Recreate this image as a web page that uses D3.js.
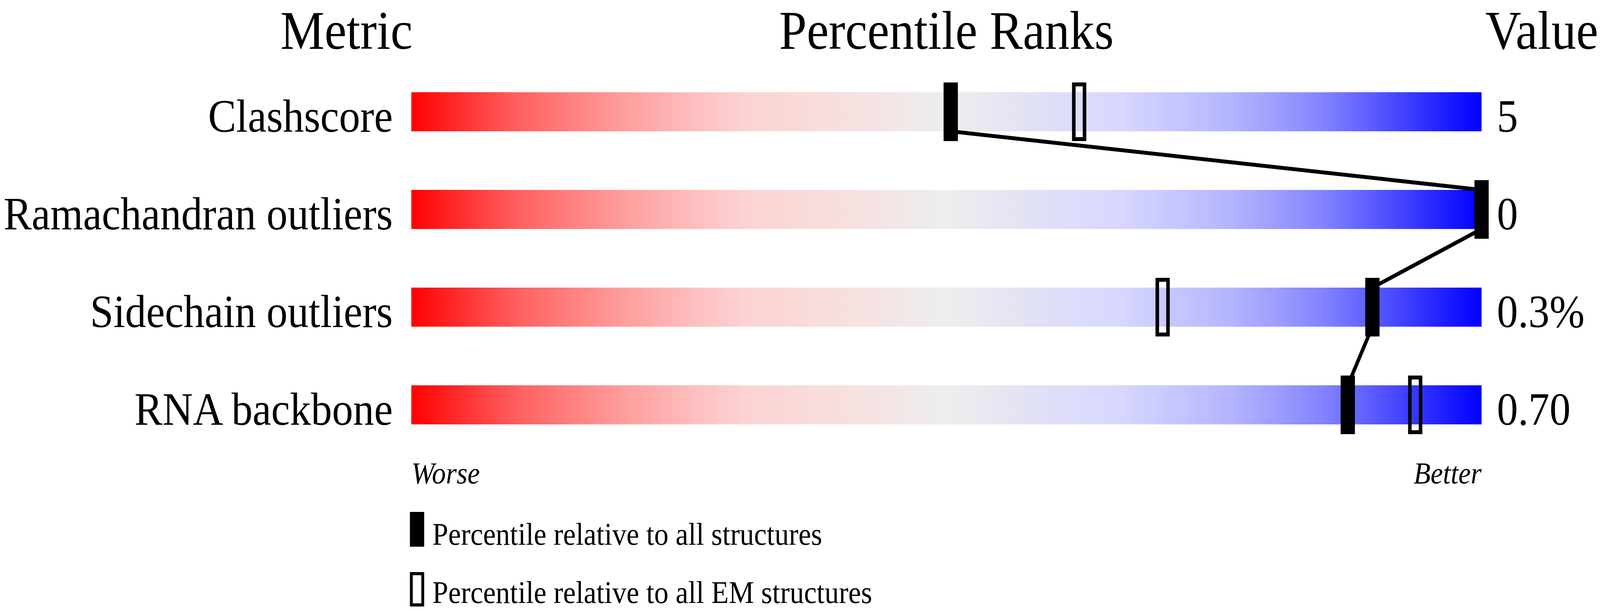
<!DOCTYPE html>
<html>
<head>
<meta charset="utf-8">
<script src="https://cdn.jsdelivr.net/npm/d3@7"></script>
<style>
  html, body { margin: 0; padding: 0; background: #fff; overflow: hidden; width: 100%; height: 100%; }
  svg { display: block; width: 100vw; height: 100vh; }
  text { font-family: "Liberation Serif", "Times New Roman", serif; fill: #000; }
</style>
</head>
<body>
<script>
// ---- data ----
const metrics = ["Clashscore", "Ramachandran outliers", "Sidechain outliers", "RNA backbone"];
const valueLabels = ["5", "0", "0.3%", "0.70"];
const percentileAll = [50.4, 100, 89.8, 87.5];
const percentileEM = [62.4, null, 70.2, 93.8];
const headers = ["Metric", "Percentile Ranks", "Value"];
const axisEnds = ["Worse", "Better"];
const legendLabels = ["Percentile relative to all structures", "Percentile relative to all EM structures"];
const gradientStops = [
  [0, "#ff0000"], [0.05, "#ff3232"], [0.10, "#ff6060"], [0.15, "#ff8080"],
  [0.20, "#ff9e9e"], [0.26, "#fdbcbc"], [0.31, "#fcd2d2"], [0.38, "#f9dcdc"],
  [0.44, "#f4e4e4"], [0.50, "#eeeeee"], [0.55, "#e6e6f2"], [0.60, "#dedef9"],
  [0.66, "#d8d8ff"], [0.72, "#c4c4ff"], [0.766, "#b4b4ff"], [0.81, "#9c9cff"],
  [0.85, "#8484ff"], [0.90, "#5a5aff"], [0.95, "#2c2cff"], [1, "#0000ff"]
];

// ---- layout ----
const W = 4485, H = 1561;
const svg = d3.select("body").append("svg")
  .attr("viewBox", `0 0 ${W} ${H}`)
  .attr("preserveAspectRatio", "none");
svg.append("rect").attr("width", W).attr("height", H).attr("fill", "#fff");

const x = d3.scaleLinear().domain([0, 100]).range([1153, 4153]);
const y = d3.scaleBand().domain(metrics).range([236, 1086]).paddingInner(0.6).paddingOuter(0);
const bw = y.bandwidth();

const defs = svg.append("defs");
const grad = defs.append("linearGradient").attr("id", "g")
  .attr("x1", "0%").attr("x2", "100%").attr("y1", "0%").attr("y2", "0%");
grad.selectAll("stop").data(gradientStops).join("stop")
  .attr("offset", d => d[0]).attr("stop-color", d => d[1]);

// headers
const hy = 125;
svg.append("text").attr("x", 786).attr("y", hy).attr("font-size", 139).text(headers[0]);
svg.append("text").attr("x", (x(0) + x(100)) / 2).attr("y", hy).attr("font-size", 139)
  .attr("text-anchor", "middle").text(headers[1]);
svg.append("text").attr("x", 4480).attr("y", hy).attr("font-size", 139)
  .attr("text-anchor", "end").text(headers[2]);

// bars
svg.selectAll("rect.bar").data(metrics).join("rect").attr("class", "bar")
  .attr("x", x(0)).attr("width", x(100) - x(0))
  .attr("y", d => y(d)).attr("height", bw).attr("fill", "url(#g)");

// labels
svg.selectAll("text.lab").data(metrics).join("text").attr("class", "lab")
  .attr("x", 1101).attr("y", d => y(d) + bw + 1).attr("font-size", 118)
  .attr("text-anchor", "end").text(d => d);

svg.selectAll("text.val").data(valueLabels).join("text").attr("class", "val")
  .attr("x", 4196).attr("y", (d, i) => y(metrics[i]) + bw + 1).attr("font-size", 118).text(d => d);

// connecting line (bottom of one bar to top of the next)
const pts = [];
metrics.forEach((m, i) => {
  if (i > 0) pts.push([x(percentileAll[i]), y(m)]);
  if (i < metrics.length - 1) pts.push([x(percentileAll[i]), y(m) + bw]);
});
svg.append("path").attr("d", d3.line()(pts)).attr("fill", "none")
  .attr("stroke", "#000").attr("stroke-width", 10).attr("stroke-linejoin", "round");

// markers
const mw = 40, ext = 25, sw = 10;
svg.selectAll("rect.em")
  .data(metrics.map((m, i) => ({ m, p: percentileEM[i] })).filter(d => d.p != null))
  .join("rect").attr("class", "em")
  .attr("x", d => x(d.p) - mw / 2 + sw / 2).attr("width", mw - sw)
  .attr("y", d => y(d.m) - ext + sw / 2).attr("height", bw + 2 * ext - sw)
  .attr("fill", "none").attr("stroke", "#000").attr("stroke-width", sw);
svg.selectAll("rect.all")
  .data(metrics.map((m, i) => ({ m, p: percentileAll[i] })))
  .join("rect").attr("class", "all")
  .attr("x", d => x(d.p) - mw / 2).attr("width", mw)
  .attr("y", d => y(d.m) - ext).attr("height", bw + 2 * ext).attr("fill", "#000");

// worse / better
svg.append("text").attr("x", x(0)).attr("y", 1237).attr("font-size", 78)
  .attr("font-style", "italic").text(axisEnds[0]);
svg.append("text").attr("x", x(100)).attr("y", 1237).attr("font-size", 78)
  .attr("font-style", "italic").attr("text-anchor", "end").text(axisEnds[1]);

// legend
svg.append("rect").attr("x", 1149).attr("y", 1310).attr("width", 40).attr("height", 89).attr("fill", "#000");
svg.append("text").attr("x", 1212).attr("y", 1394).attr("font-size", 80).text(legendLabels[0]);
svg.append("rect").attr("x", 1153).attr("y", 1468).attr("width", 32).attr("height", 80)
  .attr("fill", "none").attr("stroke", "#000").attr("stroke-width", 8);
svg.append("text").attr("x", 1212).attr("y", 1543).attr("font-size", 80).text(legendLabels[1]);
</script>
</body>
</html>
